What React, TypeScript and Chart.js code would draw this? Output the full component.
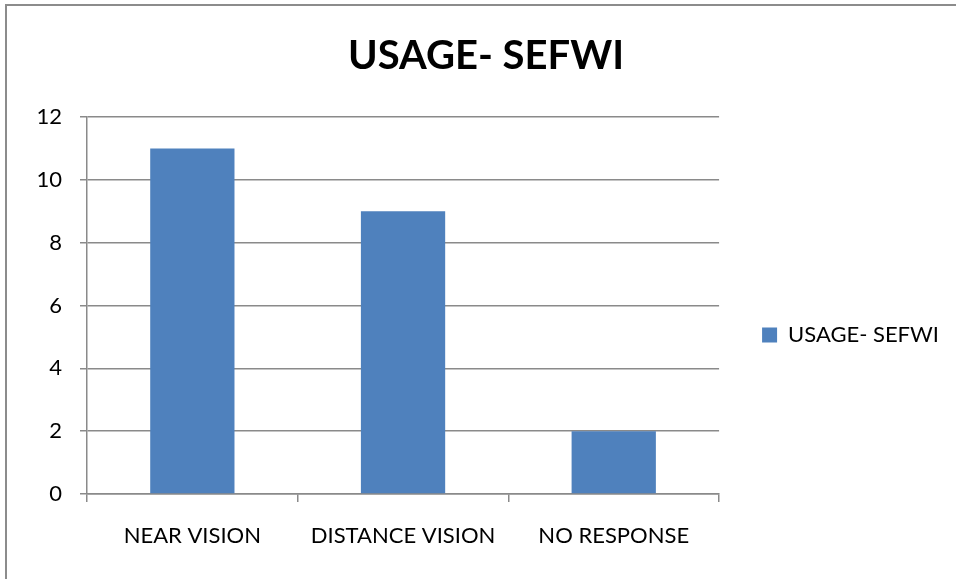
import React, { useEffect, useRef } from "react";
import { Chart, registerables } from "chart.js";

Chart.register(...registerables);

const TITLE = "USAGE- SEFWI";
const SERIES_NAME = "USAGE- SEFWI";
const CATEGORIES = ["NEAR VISION", "DISTANCE VISION", "NO RESPONSE"];
const VALUES = [11, 9, 2];
const Y_MIN = 0;
const Y_MAX = 12;
const Y_STEP = 2;

const FONT = "Lato";
const GRID = "#8a8a8a";
const BAR = "#4F81BD";

export default function App() {
  const ref = useRef<HTMLCanvasElement>(null);
  useEffect(() => {
    const canvas = ref.current;
    if (!canvas) return;
    const chart = new Chart(canvas, {
      type: "bar",
      data: {
        labels: CATEGORIES,
        datasets: [
          {
            label: SERIES_NAME,
            data: VALUES,
            backgroundColor: BAR,
            borderWidth: 0,
            categoryPercentage: 1,
            barPercentage: 0.4,
          },
        ],
      },
      options: {
        responsive: false,
        animation: false,
        layout: { padding: { left: 23, right: 7, top: 0, bottom: 26 } },
        plugins: {
          title: {
            display: true,
            text: TITLE,
            color: "#000",
            font: { family: FONT, size: 40, weight: "bold" },
            padding: { top: 32, bottom: 37 },
          },
          legend: {
            display: true,
            position: "right",
            title: {
              display: true,
              text: "",
              font: { family: FONT, size: 10 },
              padding: { top: 52, bottom: 53 },
            },
            labels: {
              color: "#000",
              font: { family: FONT, size: 22 },
              boxWidth: 15,
              boxHeight: 15,
              padding: 43,
            },
          },
          tooltip: { enabled: false },
        },
        scales: {
          x: {
            grid: {
              display: true,
              drawOnChartArea: false,
              drawTicks: true,
              tickLength: 8,
              color: GRID,
              lineWidth: 1.5,
              offset: true,
            },
            border: { color: GRID, width: 1.5 },
            ticks: {
              color: "#000",
              font: { family: FONT, size: 22 },
              padding: 21,
            },
            afterFit: (s: any) => {
              s.height = 59;
            },
          },
          y: {
            min: Y_MIN,
            max: Y_MAX,
            grid: {
              color: GRID,
              lineWidth: 1.5,
              drawTicks: true,
              tickLength: 7,
            },
            border: { color: GRID, width: 1.5 },
            ticks: {
              stepSize: Y_STEP,
              color: "#000",
              font: { family: FONT, size: 22 },
              padding: 18,
            },
            afterFit: (s: any) => {
              s.width = 64;
            },
          },
        },
      },
    });
    return () => chart.destroy();
  }, []);

  return (
    <div
      style={{
        position: "fixed",
        left: 0,
        top: 0,
        width: 956,
        height: 579,
        overflow: "hidden",
        background: "#fff",
      }}
    >
      <div
        style={{
          position: "absolute",
          left: 5,
          top: 4,
          width: 2000,
          height: 2000,
          borderLeft: "2px solid #8c8c8c",
          borderTop: "2px solid #8c8c8c",
        }}
      />
      <canvas
        ref={ref}
        width={956}
        height={579}
        style={{ position: "absolute", left: 0, top: 0, display: "block" }}
      />
    </div>
  );
}
